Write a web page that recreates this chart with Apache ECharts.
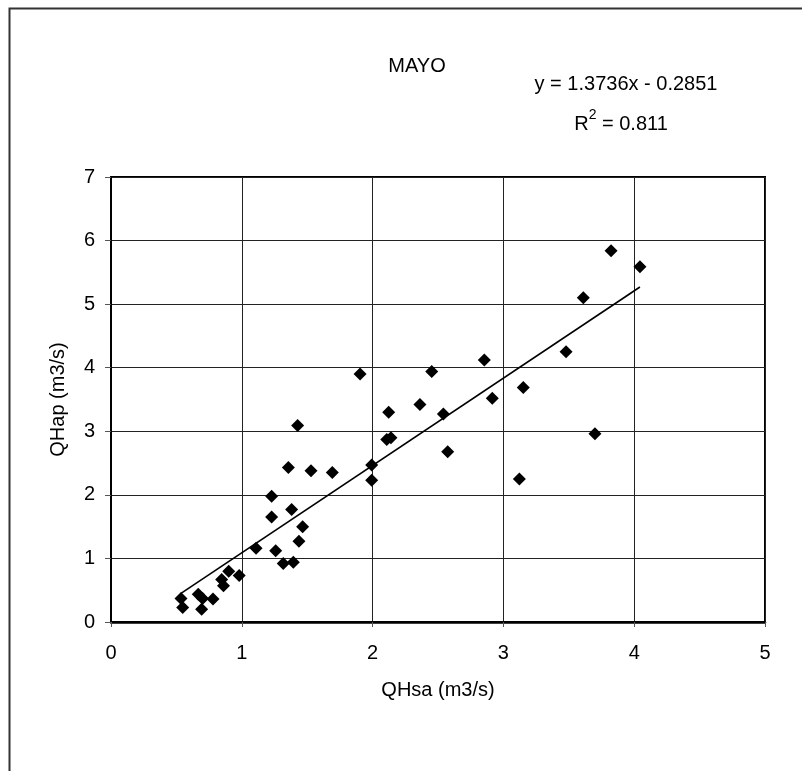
<!DOCTYPE html>
<html>
<head>
<meta charset="utf-8">
<script src="https://cdn.jsdelivr.net/npm/echarts@6/dist/echarts.min.js"></script>
<style>
  html, body { margin: 0; padding: 0; background: #fff; }
  #chart { width: 802px; height: 771px; }
</style>
</head>
<body>
<div id="chart"></div>
<script>
// Observed discharges for May (m3/s)
const qhsa = [0.535, 0.548, 0.667, 0.70, 0.693, 0.78, 0.846, 0.86, 0.90, 0.98,
  1.109, 1.259, 1.317, 1.394, 1.437, 1.465, 1.228, 1.228, 1.381, 1.356,
  1.529, 1.692, 1.427, 1.993, 1.993, 2.123, 2.108, 2.14, 2.452, 2.854,
  3.479, 3.611, 3.823, 4.044, 3.152, 2.915, 1.904, 2.362, 2.541, 2.574,
  3.70, 3.122];
const qhap = [0.37, 0.23, 0.435, 0.37, 0.20, 0.36, 0.67, 0.57, 0.80, 0.73,
  1.16, 1.12, 0.92, 0.94, 1.27, 1.50, 1.65, 1.98, 1.77, 2.43,
  2.38, 2.35, 3.09, 2.47, 2.23, 3.30, 2.87, 2.90, 3.94, 4.12,
  4.25, 5.10, 5.84, 5.59, 3.69, 3.52, 3.90, 3.42, 3.27, 2.68,
  2.96, 2.25];

// Linear fit reported for the series
const slope = 1.3736;
const intercept = -0.2851;
const r2 = 0.811;

const xTicks = [0, 1, 2, 3, 4, 5];
const yTicks = [0, 1, 2, 3, 4, 5, 6, 7];

const FONT = 'Liberation Sans, Arial, sans-serif';

const points = qhsa.map((x, i) => [x, qhap[i]]);
const xMin = Math.min(...qhsa), xMax = Math.max(...qhsa);
const fitLine = [[xMin, slope * xMin + intercept], [xMax, slope * xMax + intercept]];

const chart = echarts.init(document.getElementById('chart'), null, { renderer: 'canvas' });
chart.setOption({
  animation: false,
  backgroundColor: '#fff',
  title: {
    text: 'MAYO',
    left: 412, top: 51, textAlign: 'center',
    textStyle: { fontFamily: FONT, fontSize: 20, fontWeight: 'normal', color: '#000' }
  },
  graphic: [
    {
      type: 'rect', left: 7, top: 6, silent: true,
      shape: { width: 820, height: 800 },
      style: { fill: 'none', stroke: '#333', lineWidth: 2 }
    },
    {
      type: 'text', x: 626, y: 84, silent: true,
      style: {
        text: 'y = 1.3736x - 0.2851',
        fontFamily: FONT, fontSize: 20, fill: '#000',
        align: 'center', verticalAlign: 'middle'
      }
    },
    {
      type: 'text', x: 621, y: 121, silent: true,
      style: {
        text: '{b|R}{s|2}{b| = ' + r2.toFixed(3) + '}',
        align: 'center', verticalAlign: 'middle',
        rich: {
          b: { fontFamily: FONT, fontSize: 20, fill: '#000', color: '#000', verticalAlign: 'bottom', lineHeight: 26 },
          s: { fontFamily: FONT, fontSize: 14, fill: '#000', color: '#000', verticalAlign: 'top', lineHeight: 26 }
        }
      }
    }
  ],
  grid: {
    left: 111, top: 177, right: 37, bottom: 149,
    show: true, borderColor: '#000', borderWidth: 2, backgroundColor: 'transparent'
  },
  xAxis: {
    type: 'value', min: 0, max: 5, interval: 1,
    name: 'QHsa (m3/s)', nameLocation: 'middle', nameGap: 58,
    nameTextStyle: { fontFamily: FONT, fontSize: 20, color: '#000' },
    axisLine: { show: true, onZero: false, lineStyle: { color: '#000', width: 2.5 } },
    axisTick: { show: true, inside: false, length: 5, lineStyle: { color: '#555', width: 1 } },
    axisLabel: {
      fontFamily: FONT, fontSize: 20, color: '#000', margin: 21,
      formatter: v => xTicks.includes(v) ? String(v) : ''
    },
    splitLine: { show: true, lineStyle: { color: '#222', width: 1 } }
  },
  yAxis: {
    type: 'value', min: 0, max: 7, interval: 1,
    name: 'QHap (m3/s)', nameLocation: 'middle', nameGap: 43,
    nameTextStyle: { fontFamily: FONT, fontSize: 20, color: '#000' },
    axisLine: { show: true, onZero: false, lineStyle: { color: '#000', width: 2 } },
    axisTick: { show: true, inside: false, length: 6, lineStyle: { color: '#555', width: 1 } },
    axisLabel: {
      fontFamily: FONT, fontSize: 20, color: '#000', margin: 16,
      formatter: v => yTicks.includes(v) ? String(v) : ''
    },
    splitLine: { show: true, lineStyle: { color: '#222', width: 1 } }
  },
  series: [
    {
      name: 'QHap',
      type: 'scatter',
      data: points,
      symbol: 'diamond',
      symbolSize: 13,
      itemStyle: { color: '#000', opacity: 1 },
      z: 3
    },
    {
      name: 'Lineal',
      type: 'line',
      data: fitLine,
      showSymbol: false,
      symbol: 'none',
      lineStyle: { color: '#000', width: 1.6 },
      z: 2
    }
  ]
});
</script>
</body>
</html>
